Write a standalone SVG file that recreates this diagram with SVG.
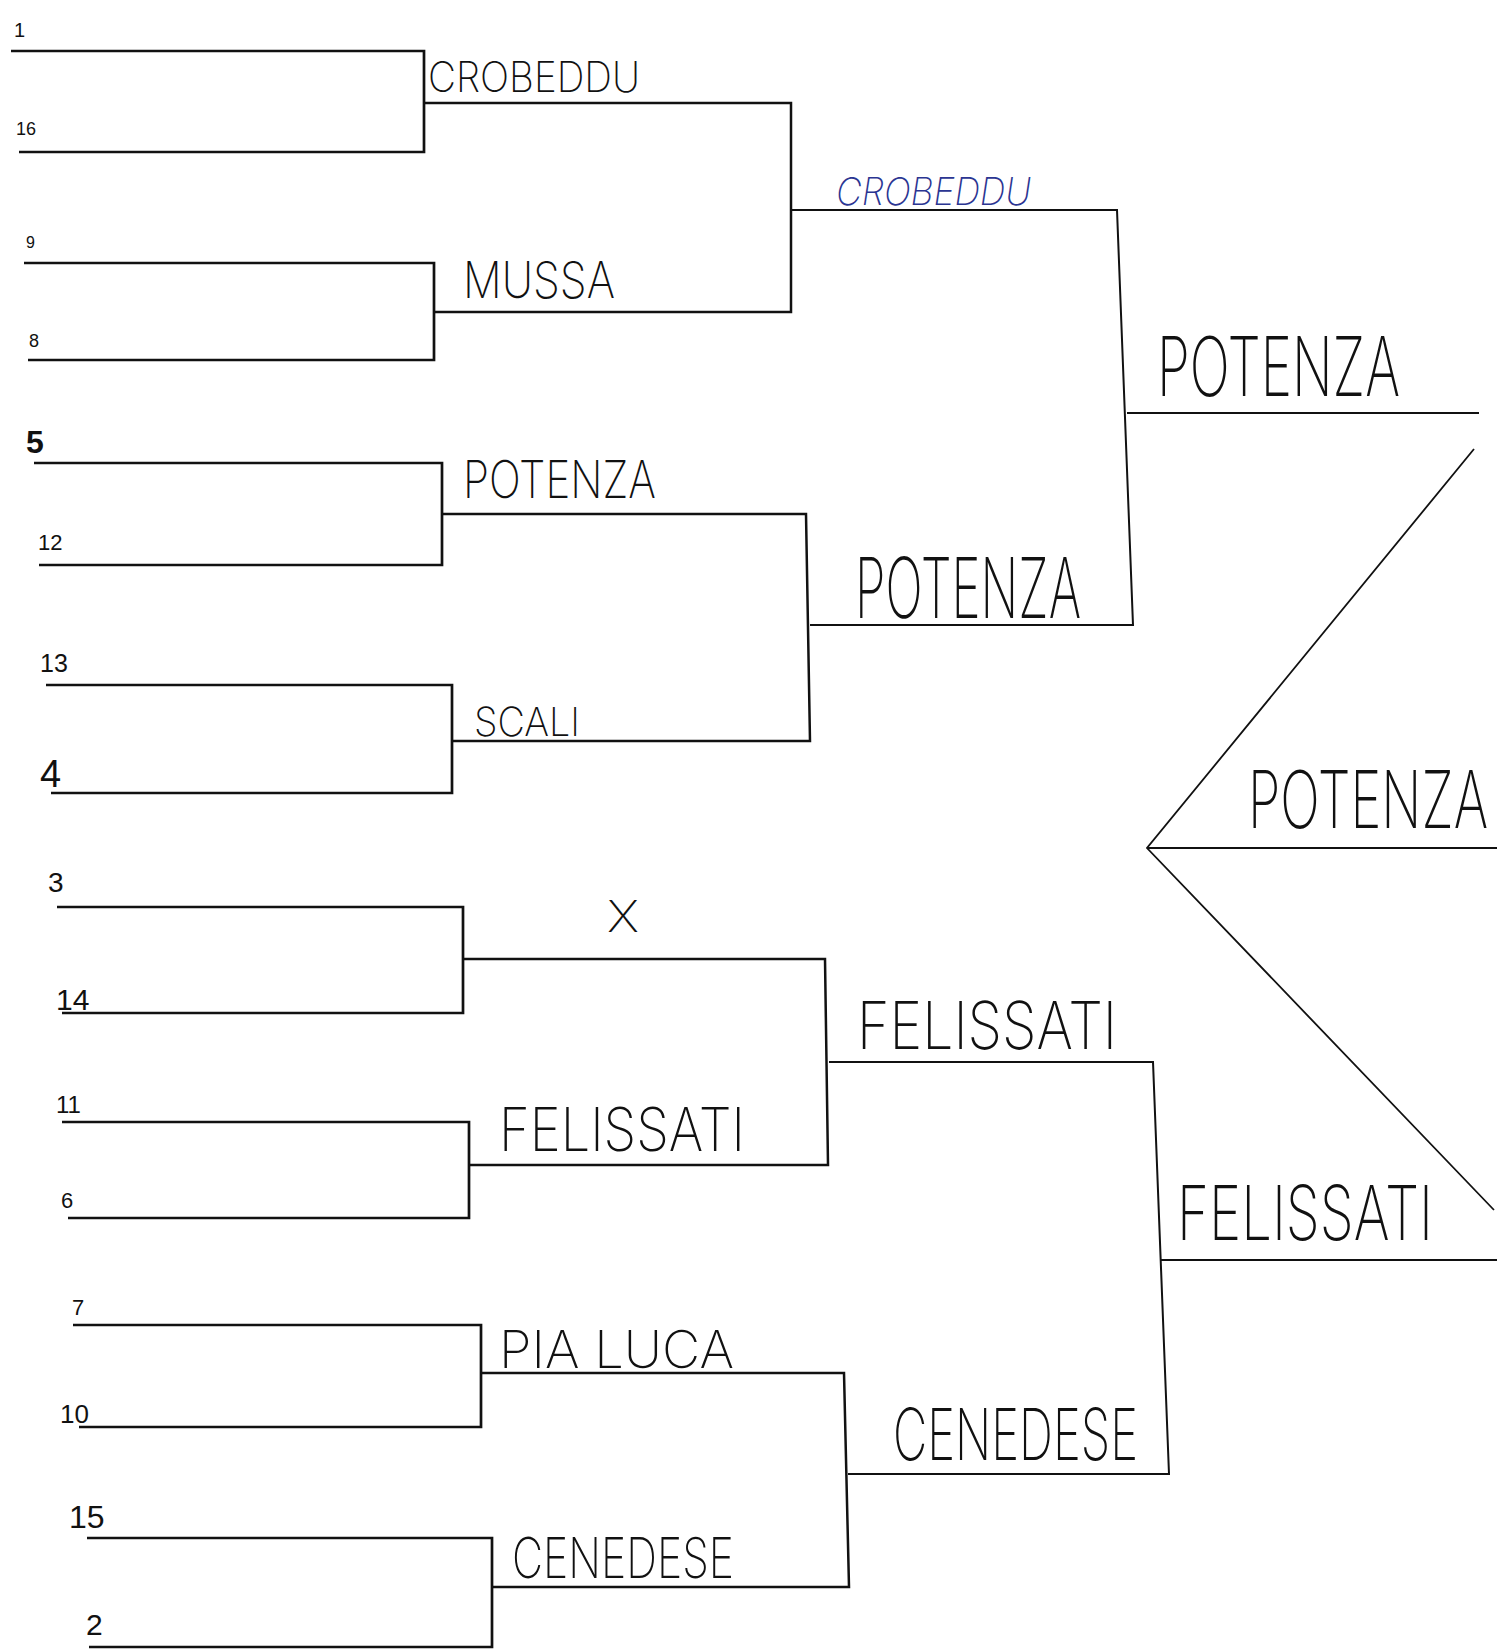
<svg xmlns="http://www.w3.org/2000/svg" width="1497" height="1650" viewBox="0 0 1497 1650">
<style>
.bg{fill:#ffffff}
.b1{fill:none;stroke:#111;stroke-width:2.7;stroke-linejoin:miter}
.w1{fill:none;stroke:#111;stroke-width:2.5}
.r2{fill:none;stroke:#111;stroke-width:2}
.fin{fill:none;stroke:#111;stroke-width:1.8}
.seed{font-family:"Liberation Sans","DejaVu Sans",sans-serif;fill:#111}
.hand{font-family:Inter,"Liberation Sans",sans-serif;font-weight:200;fill:#111}
.blue{font-family:Inter,"Liberation Sans",sans-serif;font-weight:200;font-style:italic;fill:#2b3592}
</style>
<rect class="bg" x="0" y="0" width="1497" height="1650"/>
<g id="connectors">
  <path class="b1" d="M11,51 H424 V152 H19"/>
  <path class="b1" d="M24,263 H434 V360 H28"/>
  <path class="b1" d="M34,463 H442 V565 H39"/>
  <path class="b1" d="M46,685 H452 V793 H51"/>
  <path class="b1" d="M57,907 H463 V1013 H62"/>
  <path class="b1" d="M62,1122 H469 V1218 H68"/>
  <path class="b1" d="M73,1325 H481 V1427 H79"/>
  <path class="b1" d="M87,1538 H492 V1647 H89"/>
  <path class="w1" d="M424,103 H791 V312 H434"/>
  <path class="w1" d="M443,514 H806 L810,741 H453"/>
  <path class="w1" d="M464,959 H825 L828,1165 H470"/>
  <path class="w1" d="M481,1373 H844 L849,1587 H493"/>
  <path class="r2" d="M792,210 H1117 L1133,625 H810"/>
  <path class="r2" d="M829,1062 H1153 L1169,1474 H848"/>
  <path class="fin" d="M1127,413 H1479"/>
  <path class="fin" d="M1160,1260 H1497"/>
  <path class="fin" d="M1474,449 L1147,848 L1494,1210"/>
  <path class="fin" d="M1147,848 H1497"/>
</g>
<g id="seeds">
  <g id="seed-1"><text class="seed" x="14" y="37" font-size="20">1</text></g>
  <g id="seed-16"><text class="seed" x="16" y="135" font-size="18">16</text></g>
  <g id="seed-9"><text class="seed" x="26" y="248" font-size="16">9</text></g>
  <g id="seed-8"><text class="seed" x="29" y="347" font-size="18">8</text></g>
  <g id="seed-5"><text class="seed" x="26" y="453" font-size="32" font-weight="bold">5</text></g>
  <g id="seed-12"><text class="seed" x="38" y="550" font-size="22">12</text></g>
  <g id="seed-13"><text class="seed" x="40" y="672" font-size="25">13</text></g>
  <g id="seed-4"><text class="seed" x="40" y="787" font-size="38">4</text></g>
  <g id="seed-3"><text class="seed" x="48" y="892" font-size="28">3</text></g>
  <g id="seed-14"><text class="seed" x="56" y="1010" font-size="30">14</text></g>
  <g id="seed-11"><text class="seed" x="56" y="1113" font-size="24">11</text></g>
  <g id="seed-6"><text class="seed" x="61" y="1208" font-size="22">6</text></g>
  <g id="seed-7"><text class="seed" x="72" y="1315" font-size="22">7</text></g>
  <g id="seed-10"><text class="seed" x="60" y="1423" font-size="26">10</text></g>
  <g id="seed-15"><text class="seed" x="69" y="1528" font-size="32">15</text></g>
  <g id="seed-2"><text class="seed" x="86" y="1635" font-size="30">2</text></g>
</g>
<g id="round1-winners">
  <g id="w-crobeddu-1"><text class="hand" x="428" y="92" font-size="42" textLength="212" lengthAdjust="spacingAndGlyphs">CROBEDDU</text></g>
  <g id="w-mussa"><text class="hand" x="463" y="298" font-size="50" textLength="152" lengthAdjust="spacingAndGlyphs">MUSSA</text></g>
  <g id="w-potenza-1"><text class="hand" x="463" y="498" font-size="52" textLength="193" lengthAdjust="spacingAndGlyphs">POTENZA</text></g>
  <g id="w-scali"><text class="hand" x="474" y="736" font-size="40" textLength="106" lengthAdjust="spacingAndGlyphs">SCALI</text></g>
  <g id="w-x"><text class="hand" x="607" y="932" font-size="44" textLength="32" lengthAdjust="spacingAndGlyphs">X</text></g>
  <g id="w-felissati-1"><text class="hand" x="499" y="1151" font-size="60" textLength="246" lengthAdjust="spacingAndGlyphs">FELISSATI</text></g>
  <g id="w-pialuca"><text class="hand" x="499" y="1368" font-size="52" textLength="235" lengthAdjust="spacingAndGlyphs">PIA LUCA</text></g>
  <g id="w-cenedese-1"><text class="hand" x="512" y="1578" font-size="56" textLength="222" lengthAdjust="spacingAndGlyphs">CENEDESE</text></g>
</g>
<g id="round2-winners">
  <g id="w-crobeddu-2"><text class="blue" x="836" y="205" font-size="38" textLength="195" lengthAdjust="spacingAndGlyphs">CROBEDDU</text></g>
  <g id="w-potenza-2"><text class="hand" x="855" y="618" font-size="84" textLength="226" lengthAdjust="spacingAndGlyphs">POTENZA</text></g>
  <g id="w-felissati-2"><text class="hand" x="857" y="1049" font-size="66" textLength="260" lengthAdjust="spacingAndGlyphs">FELISSATI</text></g>
  <g id="w-cenedese-2"><text class="hand" x="893" y="1460" font-size="72" textLength="245" lengthAdjust="spacingAndGlyphs">CENEDESE</text></g>
</g>
<g id="semifinal-winners">
  <g id="w-potenza-3"><text class="hand" x="0" y="0" font-size="53" textLength="243" lengthAdjust="spacingAndGlyphs" transform="translate(1157,396) scale(1,1.55)">POTENZA</text></g>
  <g id="w-felissati-3"><text class="hand" x="0" y="0" font-size="55" textLength="256" lengthAdjust="spacingAndGlyphs" transform="translate(1177,1240) scale(1,1.37)">FELISSATI</text></g>
</g>
<g id="champion">
  <g id="w-potenza-final"><text class="hand" x="0" y="0" font-size="53" textLength="240" lengthAdjust="spacingAndGlyphs" transform="translate(1248,828) scale(1,1.5)">POTENZA</text></g>
</g>
</svg>
